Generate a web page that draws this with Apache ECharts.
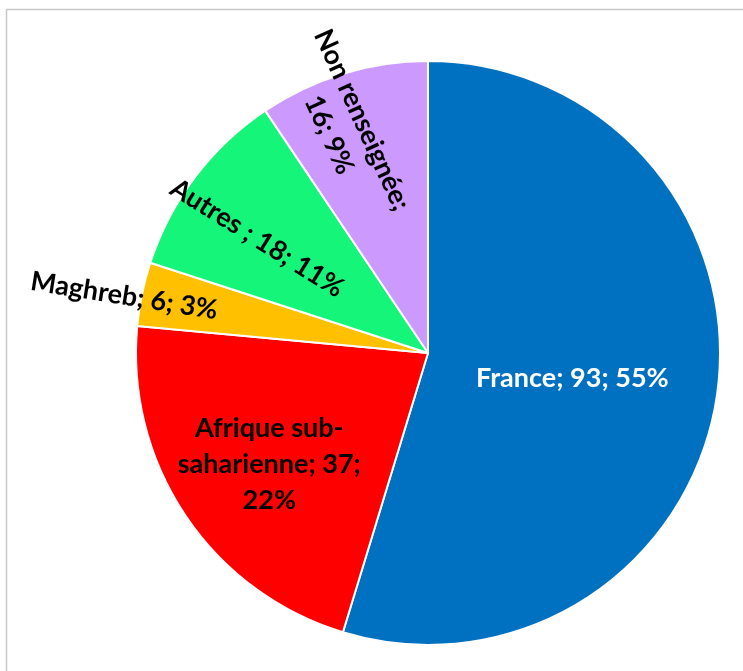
<!DOCTYPE html>
<html>
<head>
<meta charset="utf-8">
<script src="https://cdn.jsdelivr.net/npm/echarts@6/dist/echarts.min.js"></script>
<style>html,body{margin:0;padding:0;background:#fff}#c{width:743px;height:671px}</style>
</head>
<body>
<div id="c"></div>
<script>
const categories = ['France', 'Afrique sub-saharienne', 'Maghreb', 'Autres ', 'Non renseignée'];
const values = [93, 37, 6, 18, 16];
const colors = ['#0070C0', '#FF0000', '#FFC000', '#14F57A', '#CC99FF'];
const labelTemplates = ['{b}; {c}; {d}%', 'Afrique sub-\nsaharienne; {c};\n{d}%', '{b}; {c}; {d}%', '{b}; {c}; {d}%', 'Non renseignée;\n{c}; {d}%'];
const labelColors = ['#ffffff', '#000000', '#000000', '#000000', '#000000'];
const labelRotate = [0, 0, -9, -32, -65.5];
// desired on-screen shift of each label from its default inside anchor
const labelShift = [[-3, 3], [-35, 28], [-158, -27], [-52, -25], [-39, -83]];

function localShift(i) {
  // ECharts applies dx/dy in the label's rotated frame: convert screen shift to local
  const t = labelRotate[i] * Math.PI / 180;
  const c = Math.cos(t), s = Math.sin(t);
  const sx = labelShift[i][0], sy = labelShift[i][1];
  return [sx * c - sy * s, sx * s + sy * c];
}

const chart = echarts.init(document.getElementById('c'), null, {renderer: 'canvas'});
chart.setOption({
  animation: false,
  graphic: [{
    type: 'rect', silent: true,
    shape: {x: 6.5, y: 9.5, width: 800, height: 800},
    style: {fill: 'none', stroke: '#c8c8c8', lineWidth: 1.5}
  }],
  series: [{
    type: 'pie',
    center: [428, 353],
    radius: 292,
    startAngle: 90,
    clockwise: true,
    percentPrecision: 0,
    avoidLabelOverlap: false,
    itemStyle: {borderColor: '#ffffff', borderWidth: 2},
    label: {
      show: true, position: 'inside',
      fontFamily: 'Lato', fontWeight: 'bold', fontSize: 27, lineHeight: 36,
      align: 'center'
    },
    labelLine: {show: false},
    labelLayout: function (p) {
      const i = p.dataIndex;
      const d = localShift(i);
      return {dx: d[0], dy: d[1], rotate: labelRotate[i]};
    },
    data: categories.map((n, i) => ({
      name: n, value: values[i],
      itemStyle: {color: colors[i]},
      label: {formatter: labelTemplates[i], color: labelColors[i]}
    }))
  }]
});
</script>
</body>
</html>
